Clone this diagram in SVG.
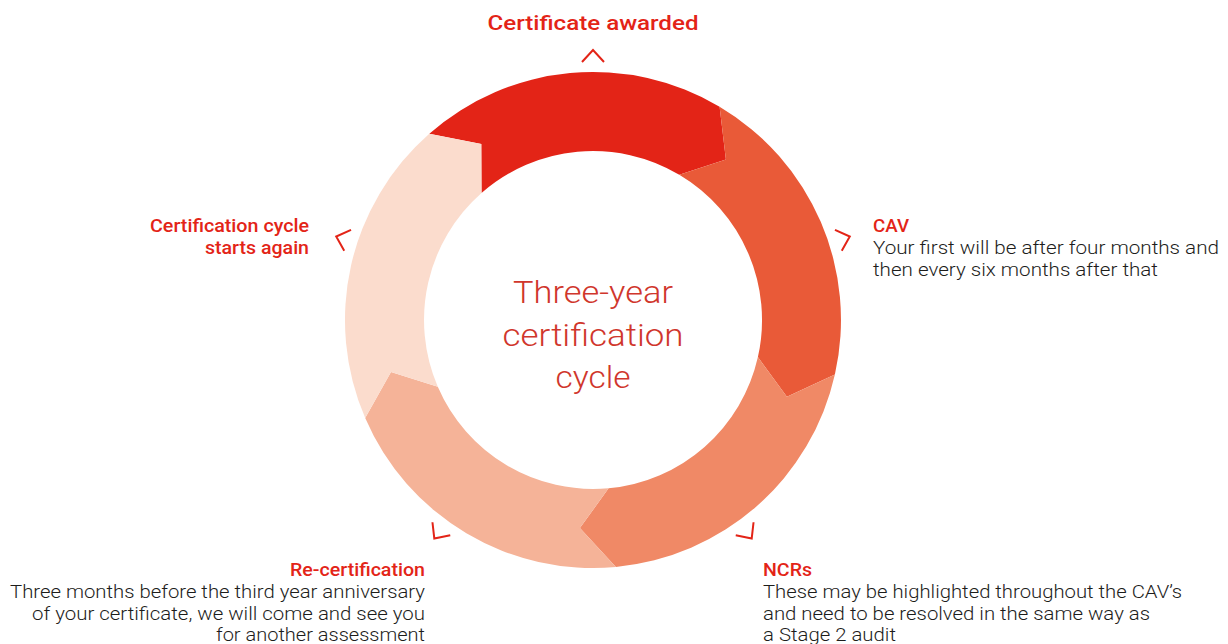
<svg xmlns="http://www.w3.org/2000/svg" xmlns:xlink="http://www.w3.org/1999/xlink" width="1228" height="644" viewBox="0 0 1228 644">
  <style>
    .title { font-family: Roboto, "Liberation Sans", sans-serif; font-weight: 500; fill: #e32417; font-size: 19px; }
    .body { font-family: Roboto, "Liberation Sans", sans-serif; font-weight: 300; fill: #1d1d1b; font-size: 19px; }
    .centre { font-family: Roboto, "Liberation Sans", sans-serif; font-weight: 300; fill: #d0362c; font-size: 31px; text-anchor: middle; }
    .tick { fill: none; stroke: #e32417; stroke-width: 2; }
  </style>
  <defs>
    <!-- outward-pointing chevron, apex on r=270 above the ring centre -->
    <path id="chev" class="tick" d="M-11,-258 L0,-270 L11,-258"/>
  </defs>

  <!-- ring segments, each ending in a chevron tip that nests into the next -->
  <g id="ring">
    <path id="seg-awarded" fill="#e32417" d="M429.3,133.7 A248,248 0 0 1 719.6,106.7 L725.9,159.4 L679.3,174.7 A169,169 0 0 0 481.5,193.0 L481.3,144.0 Z"/>
    <path id="seg-cav" fill="#e95a38" d="M719.6,106.7 A248,248 0 0 1 834.9,374.5 L786.9,396.7 L757.9,357.1 A169,169 0 0 0 679.3,174.7 L725.9,159.4 Z"/>
    <path id="seg-ncr" fill="#f08966" d="M834.9,374.5 A248,248 0 0 1 615.9,566.9 L579.9,528.1 L608.6,488.3 A169,169 0 0 0 757.9,357.1 L786.9,396.7 Z"/>
    <path id="seg-recert" fill="#f5b398" d="M615.9,566.9 A248,248 0 0 1 365.2,418.1 L391.0,371.9 L437.8,386.8 A169,169 0 0 0 608.6,488.3 L579.9,528.1 Z"/>
    <path id="seg-restart" fill="#fbdccd" d="M365.2,418.1 A248,248 0 0 1 429.3,133.7 L481.3,144.0 L481.5,193.0 A169,169 0 0 0 437.8,386.8 L391.0,371.9 Z"/>
  </g>

  <!-- stage pointers around the ring -->
  <g id="connectors" transform="translate(593,320)">
    <use xlink:href="#chev" href="#chev"/>
    <use xlink:href="#chev" href="#chev" transform="rotate(72)"/>
    <use xlink:href="#chev" href="#chev" transform="rotate(144)"/>
    <use xlink:href="#chev" href="#chev" transform="rotate(216)"/>
    <use xlink:href="#chev" href="#chev" transform="rotate(288)"/>
  </g>

  <g id="node-centre">
    <text class="centre" x="593" y="303" textLength="160" lengthAdjust="spacingAndGlyphs">Three-year</text>
    <text class="centre" x="593" y="346" textLength="181" lengthAdjust="spacingAndGlyphs">certification</text>
    <text class="centre" x="593" y="388" textLength="75" lengthAdjust="spacingAndGlyphs">cycle</text>
  </g>

  <g id="node-awarded">
    <text class="title" x="593" y="30" text-anchor="middle" style="font-size:21px" textLength="211" lengthAdjust="spacingAndGlyphs">Certificate awarded</text>
  </g>

  <g id="node-cav">
    <text class="title" x="873" y="232" textLength="36" lengthAdjust="spacingAndGlyphs">CAV</text>
    <text class="body" x="873" y="254" textLength="346" lengthAdjust="spacingAndGlyphs">Your first will be after four months and</text>
    <text class="body" x="873" y="276" textLength="285" lengthAdjust="spacingAndGlyphs">then every six months after that</text>
  </g>

  <g id="node-ncr">
    <text class="title" x="763" y="576" textLength="49" lengthAdjust="spacingAndGlyphs">NCRs</text>
    <text class="body" x="763" y="598" textLength="419" lengthAdjust="spacingAndGlyphs">These may be highlighted throughout the CAV’s</text>
    <text class="body" x="763" y="620" textLength="387" lengthAdjust="spacingAndGlyphs">and need to be resolved in the same way as</text>
    <text class="body" x="763" y="641" textLength="133" lengthAdjust="spacingAndGlyphs">a Stage 2 audit</text>
  </g>

  <g id="node-recert" text-anchor="end">
    <text class="title" x="425" y="576" textLength="135" lengthAdjust="spacingAndGlyphs">Re-certification</text>
    <text class="body" x="425" y="598" textLength="415" lengthAdjust="spacingAndGlyphs">Three months before the third year anniversary</text>
    <text class="body" x="425" y="620" textLength="393" lengthAdjust="spacingAndGlyphs">of your certificate, we will come and see you</text>
    <text class="body" x="425" y="641" textLength="209" lengthAdjust="spacingAndGlyphs">for another assessment</text>
  </g>

  <g id="node-restart" text-anchor="end">
    <text class="title" x="309" y="232" textLength="159" lengthAdjust="spacingAndGlyphs">Certification cycle</text>
    <text class="title" x="309" y="254" textLength="104" lengthAdjust="spacingAndGlyphs">starts again</text>
  </g>
</svg>
